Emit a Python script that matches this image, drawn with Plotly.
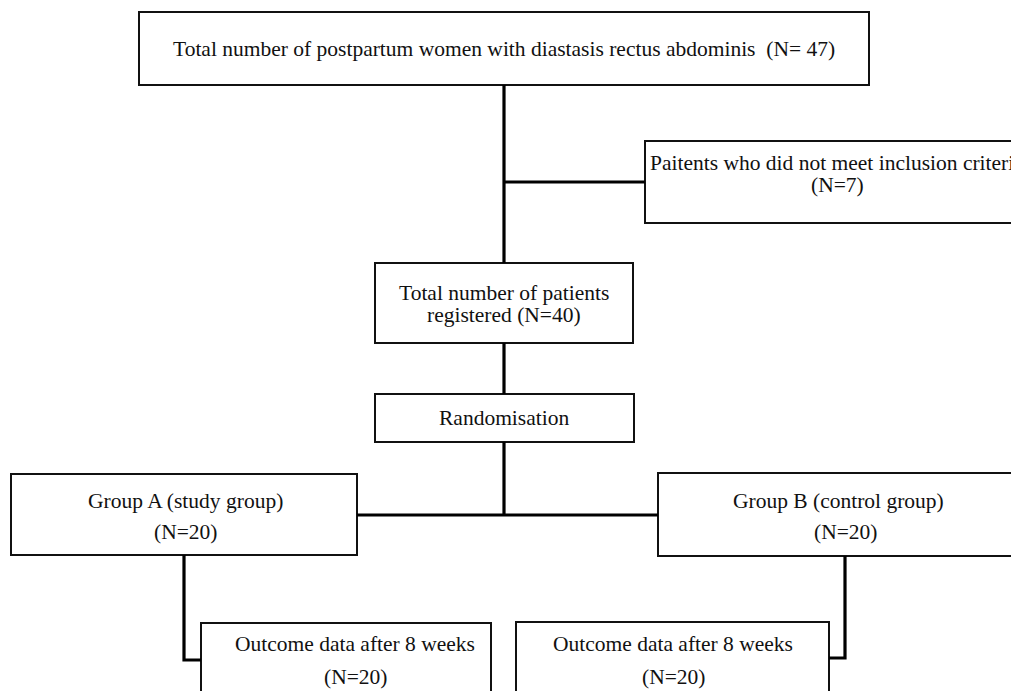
import plotly.graph_objects as go

# ---- content (data) ----
stage_labels = [
    "Total number of postpartum women with diastasis rectus abdominis",
    "Paitents who did not meet inclusion criteria",
    "Total number of patients",
    "Randomisation",
    "Group A (study group)",
    "Group B (control group)",
    "Outcome data after 8 weeks",
    "Outcome data after 8 weeks",
]
stage_counts = [47, 7, 40, None, 20, 20, 20, 20]

# ---- layout geometry (page pixels, y downward) ----
box_ids = ["top", "excl", "reg", "rand", "grpA", "grpB", "outA", "outB"]
box_x0 = [139, 645, 375, 375, 11, 658, 201, 516]
box_x1 = [869, 1030, 633, 634, 357, 1030, 491, 829]
box_y0 = [12, 141, 263, 394, 474, 473, 623, 622]
box_y1 = [85, 223, 343, 442, 555, 556, 700, 700]

line1 = [
    "%s  (N= %d)" % (stage_labels[0], stage_counts[0]),
    stage_labels[1],
    stage_labels[2],
    stage_labels[3],
    stage_labels[4],
    stage_labels[5],
    stage_labels[6],
    stage_labels[7],
]
line2 = [
    None,
    "(N=%d)" % stage_counts[1],
    "registered (N=%d)" % stage_counts[2],
    None,
    "(N=%d)" % stage_counts[4],
    "(N=%d)" % stage_counts[5],
    "(N=%d)" % stage_counts[6],
    "(N=%d)" % stage_counts[7],
]
text_x = [504, 837, 504, 504, 185, 838, 355, 673]
text_y1 = [49, 163, 293, 418, 501, 501, 644, 644]
text_y2 = [None, 185, 315, None, 532, 532, 677, 677]
text_x2 = [None, 837, 504, None, 185, 845, 355, 673]

connectors = [
    [(504, 85), (504, 263)],
    [(504, 182), (645, 182)],
    [(504, 343), (504, 394)],
    [(504, 442), (504, 515)],
    [(357, 515), (658, 515)],
    [(184, 555), (184, 660), (201, 660)],
    [(845, 556), (845, 658), (829, 658)],
]

W, H = 1019, 691
PAD = 8  # default page body margin
FONT = "Liberation Serif, Times New Roman, serif"
FS = 21.5

fig = go.Figure()
fig.add_trace(go.Scatter(x=[PAD, W], y=[PAD, H], mode="markers",
                         marker=dict(opacity=0), hoverinfo="skip", showlegend=False))

shapes = []
for i in range(len(box_ids)):
    shapes.append(dict(type="rect", xref="x", yref="y",
                       x0=box_x0[i], x1=box_x1[i], y0=box_y0[i], y1=box_y1[i],
                       line=dict(color="#111111", width=2), fillcolor="white", layer="above"))

for pts in connectors:
    path = "M " + " L ".join("%g,%g" % p for p in pts)
    shapes.append(dict(type="path", xref="x", yref="y", path=path,
                       line=dict(color="#000000", width=3.2), layer="above"))

annotations = []
for i in range(len(box_ids)):
    annotations.append(dict(x=text_x[i], y=text_y1[i], xref="x", yref="y",
                            text=line1[i], showarrow=False, xanchor="center", yanchor="middle",
                            font=dict(family=FONT, size=FS, color="#111111")))
    if line2[i] is not None:
        annotations.append(dict(x=text_x2[i], y=text_y2[i], xref="x", yref="y",
                                text=line2[i], showarrow=False, xanchor="center", yanchor="middle",
                                font=dict(family=FONT, size=FS, color="#111111")))

fig.update_layout(
    width=W - PAD, height=H - PAD,
    margin=dict(l=0, r=0, t=0, b=0),
    paper_bgcolor="white", plot_bgcolor="white",
    xaxis=dict(range=[PAD, W], visible=False, fixedrange=True),
    yaxis=dict(range=[H, PAD], visible=False, fixedrange=True),
    shapes=shapes,
    annotations=annotations,
    showlegend=False,
)

fig.write_html("out.html")
